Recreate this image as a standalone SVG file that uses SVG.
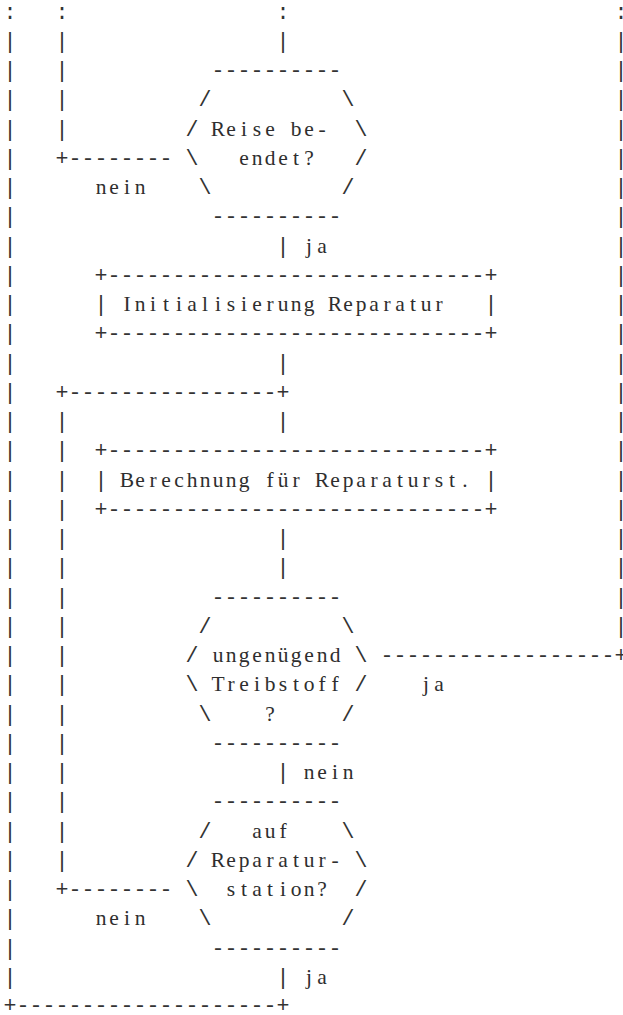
<svg xmlns="http://www.w3.org/2000/svg" width="623" height="1015" viewBox="0 0 623 1015">
  <style>
    text { font-family: "Liberation Mono", "Courier New", monospace; font-size: 21.667px; fill: #333; }
    /* words are set one glyph per 13px cell, centred, in a serif face */
    text.w { font-family: "Liberation Serif", "Times New Roman", serif; font-size: 21.5px; text-anchor: middle; fill: #2e2e2e; }
  </style>
  <!-- Character grid: column c starts at x = 3.5 + 13c (centre 10 + 13c), row r baseline at y = 18.5 + 29.25r -->
  <rect width="623" height="1015" fill="#ffffff"/>

  <g id="connectors">
    <!-- outer loop, column 0 -->
    <text x="3.5 3.5 3.5 3.5 3.5 3.5 3.5 3.5 3.5 3.5 3.5 3.5 3.5 3.5 3.5 3.5 3.5 3.5 3.5 3.5 3.5 3.5 3.5 3.5 3.5 3.5 3.5 3.5 3.5 3.5 3.5 3.5 3.5 3.5" y="18.5 47.75 77 106.25 135.5 164.75 194 223.25 252.5 281.75 311 340.25 369.5 398.75 428 457.25 486.5 515.75 545 574.25 603.5 632.75 662 691.25 720.5 749.75 779 808.25 837.5 866.75 896 925.25 954.5 983.75">:|||||||||||||||||||||||||||||||||</text>
    <text x="3.5" y="1012">+--------------------+</text>

    <!-- column 4: back edge of the first loop -->
    <text x="55.5 55.5 55.5 55.5 55.5" y="18.5 47.75 77 106.25 135.5">:||||</text>
    <text x="55.5" y="164.75">+--------</text>

    <!-- column 4: inner repair loop -->
    <text x="55.5" y="398.75">+----------------+</text>
    <text x="55.5 55.5 55.5 55.5 55.5 55.5 55.5 55.5 55.5 55.5 55.5 55.5 55.5 55.5 55.5 55.5" y="428 457.25 486.5 515.75 545 574.25 603.5 632.75 662 691.25 720.5 749.75 779 808.25 837.5 866.75">||||||||||||||||</text>
    <text x="55.5" y="896">+--------</text>

    <!-- column 21: main flow -->
    <text x="276.5 276.5" y="18.5 47.75">:|</text>
    <text x="276.5" y="252.5">|</text>
    <text x="276.5" y="369.5">|</text>
    <text x="276.5" y="428">|</text>
    <text x="276.5 276.5" y="545 574.25">||</text>
    <text x="276.5" y="779">|</text>
    <text x="276.5" y="983.75">|</text>

    <!-- column 47: fuel exit -->
    <text x="614.5 614.5 614.5 614.5 614.5 614.5 614.5 614.5 614.5 614.5 614.5 614.5 614.5 614.5 614.5 614.5 614.5 614.5 614.5 614.5 614.5 614.5" y="18.5 47.75 77 106.25 135.5 164.75 194 223.25 252.5 281.75 311 340.25 369.5 398.75 428 457.25 486.5 515.75 545 574.25 603.5 632.75">:|||||||||||||||||||||</text>
    <text x="380.5" y="662">------------------+</text>

    <!-- branch labels -->
    <text class="w" x="101 114 127 140" y="194">nein</text>
    <text class="w" x="309 322" y="252.5">ja</text>
    <text class="w" x="426 439" y="691.25">ja</text>
    <text class="w" x="309 322 335 348" y="779">nein</text>
    <text class="w" x="101 114 127 140" y="925.25">nein</text>
    <text class="w" x="309 322" y="983.75">ja</text>
  </g>

  <g id="dec-reise-beendet">
    <text x="211.5" y="77">----------</text>
    <text x="198.5" y="106.25">/</text>
    <text x="341.5" y="106.25">\</text>
    <text x="185.5" y="135.5">/</text>
    <text class="w" x="218 231 244 257 270 283 296 309 322" y="135.5">Reise be-</text>
    <text x="354.5" y="135.5">\</text>
    <text x="185.5" y="164.75">\</text>
    <text class="w" x="244 257 270 283 296 309" y="164.75">endet?</text>
    <text x="354.5" y="164.75">/</text>
    <text x="198.5" y="194">\</text>
    <text x="341.5" y="194">/</text>
    <text x="211.5" y="223.25">----------</text>
  </g>

  <g id="box-initialisierung">
    <text x="94.5" y="281.75">+-----------------------------+</text>
    <text x="94.5" y="311">|</text>
    <text class="w" x="127 140 153 166 179 192 205 218 231 244 257 270 283 296 309 322 335 348 361 374 387 400 413 426 439" y="311">Initialisierung Reparatur</text>
    <text x="484.5" y="311">|</text>
    <text x="94.5" y="340.25">+-----------------------------+</text>
  </g>

  <g id="box-berechnung">
    <text x="94.5" y="457.25">+-----------------------------+</text>
    <text x="94.5" y="486.5">|</text>
    <text class="w" x="127 140 153 166 179 192 205 218 231 244 257 270 283 296 309 322 335 348 361 374 387 400 413 426 439 452 465" y="486.5">Berechnung für Reparaturst.</text>
    <text x="484.5" y="486.5">|</text>
    <text x="94.5" y="515.75">+-----------------------------+</text>
  </g>

  <g id="dec-treibstoff">
    <text x="211.5" y="603.5">----------</text>
    <text x="198.5" y="632.75">/</text>
    <text x="341.5" y="632.75">\</text>
    <text x="185.5" y="662">/</text>
    <text class="w" x="218 231 244 257 270 283 296 309 322 335" y="662">ungenügend</text>
    <text x="354.5" y="662">\</text>
    <text x="185.5" y="691.25">\</text>
    <text class="w" x="218 231 244 257 270 283 296 309 322 335" y="691.25">Treibstoff</text>
    <text x="354.5" y="691.25">/</text>
    <text x="198.5" y="720.5">\</text>
    <text class="w" x="270" y="720.5">?</text>
    <text x="341.5" y="720.5">/</text>
    <text x="211.5" y="749.75">----------</text>
  </g>

  <g id="dec-reparaturstation">
    <text x="211.5" y="808.25">----------</text>
    <text x="198.5" y="837.5">/</text>
    <text class="w" x="257 270 283" y="837.5">auf</text>
    <text x="341.5" y="837.5">\</text>
    <text x="185.5" y="866.75">/</text>
    <text class="w" x="218 231 244 257 270 283 296 309 322 335" y="866.75">Reparatur-</text>
    <text x="354.5" y="866.75">\</text>
    <text x="185.5" y="896">\</text>
    <text class="w" x="231 244 257 270 283 296 309 322" y="896">station?</text>
    <text x="354.5" y="896">/</text>
    <text x="198.5" y="925.25">\</text>
    <text x="341.5" y="925.25">/</text>
    <text x="211.5" y="954.5">----------</text>
  </g>
</svg>
